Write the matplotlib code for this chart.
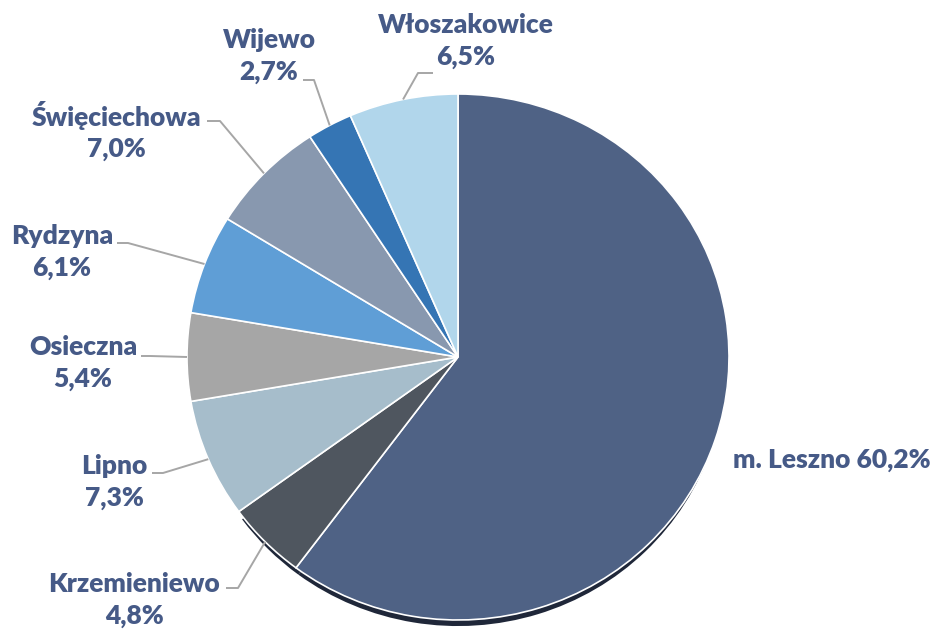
import numpy as np
import matplotlib
matplotlib.use('Agg')
from matplotlib import pyplot as plt

names = ['m. Leszno', 'Krzemieniewo', 'Lipno', 'Osieczna', 'Rydzyna',
         'Święciechowa', 'Wijewo', 'Włoszakowice']
shares = [60.2, 4.8, 7.3, 5.4, 6.1, 7.0, 2.7, 6.5]
colors = ['#4F6285', '#4F565F', '#A6BDCB', '#A6A6A6', '#5F9ED6',
          '#8898AF', '#3575B4', '#B1D6EB']

# figure in pixels, pie drawn as a slightly flattened ellipse
W, H = 939, 629
CX, CY = 458, 357
RX, RY = 271, 263

TXT = '#465A87'
LINE = '#A6A6A6'

# label text centre (px) and leader line: end near text, elbow
label_pos = [(832, 460), (134, 600), (114, 482), (83, 363), (62, 252),
             (116, 131), (269, 56), (466, 41)]
leader_end = [None, (226, 588), (152, 473), (141, 356), (117, 243),
              (207, 121), (303, 80), (433, 73)]
leader_elbow = [None, (238, 588), (163, 473), (150, 356), (128, 243),
                (220, 121), (314, 80), (418, 73)]


def px(x, y):
    return (x - CX) / RX, (CY - y) / RY


fig = plt.figure(figsize=(W / 100, H / 100), dpi=100)
ax = fig.add_axes([0, 0, 1, 1])

# dark shadow under the lower part of the pie
shadow = ['#1F2739', '#1F2739'] + ['none'] * 6
ax.pie(shares, colors=shadow, startangle=90, counterclock=False,
       radius=0.985, center=(0, -10 / RY), wedgeprops=dict(linewidth=0))

wedges, _ = ax.pie(shares, colors=colors, startangle=90, counterclock=False,
                   wedgeprops=dict(edgecolor='white', linewidth=1.2))

ax.set_aspect('auto')
ax.set_xlim(-CX / RX, (W - CX) / RX)
ax.set_ylim(-(H - CY) / RY, CY / RY)
ax.axis('off')

plt.rcParams['font.family'] = ['Lato', 'DejaVu Sans']

for i, w in enumerate(wedges):
    pct = ('%.1f%%' % shares[i]).replace('.', ',')
    tx, ty = px(*label_pos[i])
    if i == 0:
        ax.text(tx, ty, names[i] + ' ' + pct, ha='center', va='center',
                color=TXT, fontsize=19, fontweight='heavy')
        continue
    mid = np.deg2rad((w.theta1 + w.theta2) / 2)
    ax_, ay_ = np.cos(mid), np.sin(mid)
    ex, ey = px(*leader_elbow[i])
    nx, ny = px(*leader_end[i])
    ax.plot([ax_, ex, nx], [ay_, ey, ny], color=LINE, lw=1.4,
            solid_capstyle='butt', zorder=1)
    ax.text(tx, ty, names[i] + '\n' + pct, ha='center', va='center',
            color=TXT, fontsize=19, fontweight='heavy', linespacing=1.35)

plt.savefig('out.png', dpi=100)
